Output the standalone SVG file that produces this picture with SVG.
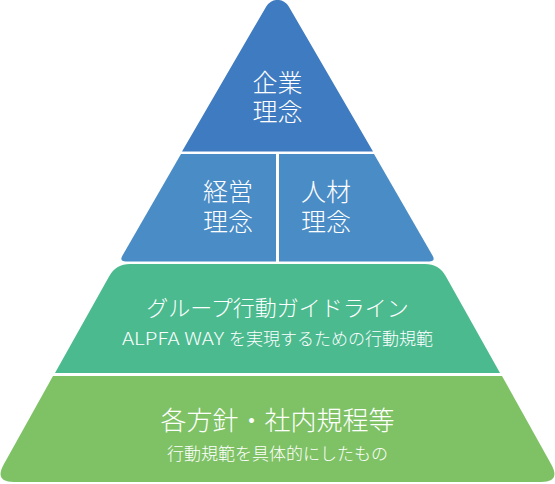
<svg xmlns="http://www.w3.org/2000/svg" width="555" height="484" viewBox="0 0 555 484">
<style>
.t{fill:#ffffff;font-family:"Noto Sans CJK JP","Noto Sans",sans-serif;font-weight:300;text-anchor:middle}
.l1{font-size:25px}
.l3{font-size:22px}
.l4{font-size:26px}
.s3{font-size:17px}
.s4{font-size:17px}
</style>
<rect width="555" height="484" fill="#ffffff"/>
<g id="kigyo-rinen">
<path d="M182 151.5 L266.25 6.4 A13 13 0 0 1 288.75 6.4 L373 151.5 Z" fill="#3F7BC0"/>
<text class="t l1" x="277.5" y="91.5">企業<tspan x="277.5" dy="29">理念</tspan></text>
</g>
<g id="keiei-rinen">
<path d="M181 154 L276 154 L276 261.5 L126 261.5 Q119 261.5 122.5 255.4 Z" fill="#4A8CC6"/>
<text class="t l1" x="228" y="201">経営<tspan x="228" dy="29.5">理念</tspan></text>
</g>
<g id="jinzai-rinen">
<path d="M279 154 L374 154 L432.5 255.4 Q436 261.5 429 261.5 L279 261.5 Z" fill="#4A8CC6"/>
<text class="t l1" x="326" y="201">人材<tspan x="326" dy="29.5">理念</tspan></text>
</g>
<g id="group-guideline">
<path d="M109.2 276.2 Q116 264 130 264 L425 264 Q439 264 445.8 276.2 L500 373 L55 373 Z" fill="#4BBA8F"/>
<text class="t l3" x="277.5" y="316">グループ行動ガイドライン</text>
<text class="t s3" x="122" y="345" style="text-anchor:start" textLength="102" lengthAdjust="spacingAndGlyphs">ALPFA WAY</text>
<text class="t s3" x="433" y="345" style="text-anchor:end">を実現するための行動規範</text>
</g>
<g id="houshin-kitei">
<path d="M53 376 L502 376 L551.3 464.5 Q561 482 541 482 L14 482 Q-6 482 3.7 464.5 Z" fill="#7EC265"/>
<text class="t l4" x="277.5" y="430">各方針・社内規程等</text>
<text class="t s4" x="277.5" y="460">行動規範を具体的にしたもの</text>
</g>
<g id="connectors"></g>
</svg>
